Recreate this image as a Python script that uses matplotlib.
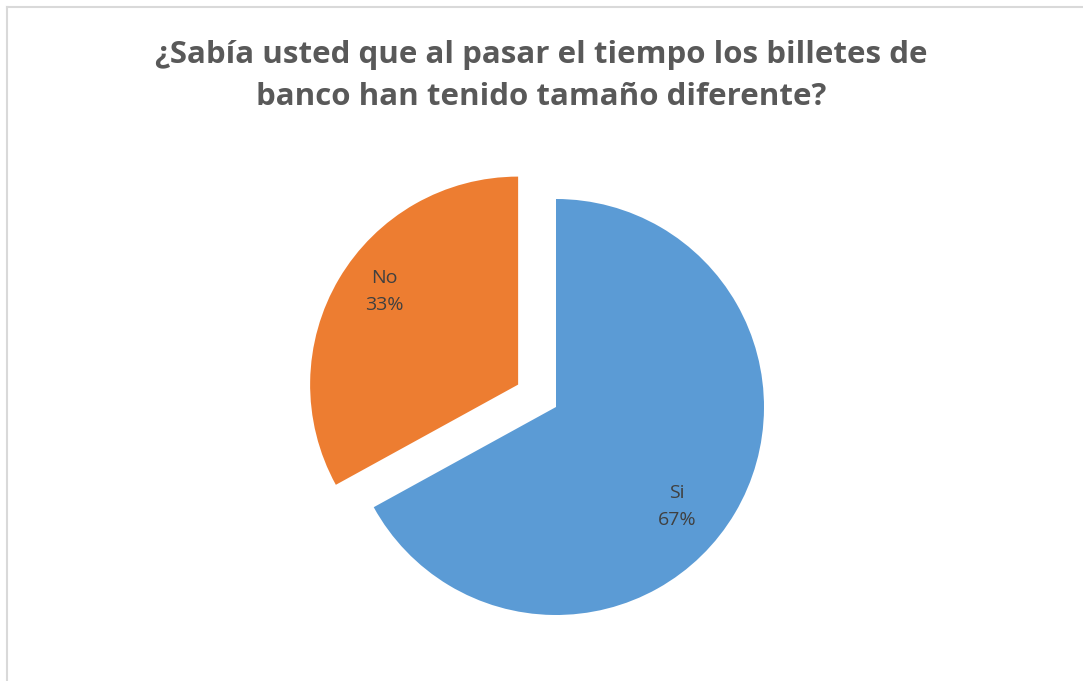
import matplotlib
matplotlib.use("Agg")
import matplotlib.pyplot as plt
from matplotlib.lines import Line2D

categories = ["Si", "No"]
values = [67, 33]
colors = ["#5B9BD5", "#ED7D31"]
title = "¿Sabía usted que al pasar el tiempo los billetes de\nbanco han tenido tamaño diferente?"

plt.rcParams['font.family'] = ['Open Sans', 'DejaVu Sans']

fig = plt.figure(figsize=(10.83, 6.81), dpi=100)
ax = fig.add_axes([0, 0, 1, 1])
ax.set_xlim(0, 1083)
ax.set_ylim(0, 681)
ax.set_aspect('equal')
ax.axis('off')

total = sum(values)
labels = [f"{c}\n{round(v / total * 100)}%" for c, v in zip(categories, values)]

wedges, texts = ax.pie(values, labels=labels, colors=colors, startangle=90,
                       counterclock=False, explode=[0, 44],
                       center=(556, 274), radius=208, labeldistance=0.76,
                       wedgeprops=dict(linewidth=0),
                       textprops=dict(color="#404040", fontsize=14, ha='center', va='center',
                                      linespacing=1.65))
# nudge labels to match Excel's placement
nudges = [(-15, -19), (2, 13)]
for t, (dx, dy) in zip(texts, nudges):
    x, y = t.get_position()
    t.set_position((x + dx, y + dy))

ax.set_xlim(0, 1083)
ax.set_ylim(0, 681)

fig.text(0.5, 1 - 76 / 681, title, ha='center', va='center', fontsize=22.5,
         fontweight='bold', color='#595959', linespacing=1.5)

# chart border (left and top visible)
fig.add_artist(Line2D([7 / 1083, 7 / 1083], [0, 1 - 7 / 681], color='#D9D9D9', lw=1.5,
                      transform=fig.transFigure))
fig.add_artist(Line2D([7 / 1083, 1], [1 - 7 / 681, 1 - 7 / 681], color='#D9D9D9', lw=1.5,
                      transform=fig.transFigure))

fig.savefig("out.png", dpi=100)
